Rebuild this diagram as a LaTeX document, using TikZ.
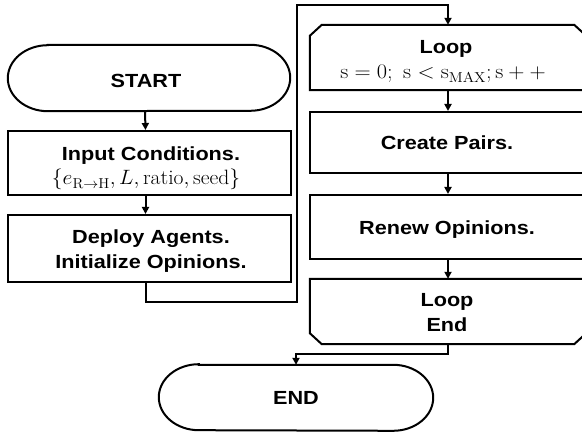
\documentclass[tikz,border=0pt]{standalone}
\usepackage{graphicx}
\usepackage{fontspec}
\setsansfont{Liberation Sans}[FakeStretch=1.14]
\usetikzlibrary{arrows.meta}

% maths line, set in roman at 20.74pt and widened a little
\newcommand\mathline[2]{\mdseries\rmfamily\fontsize{20.74}{26}\selectfont\scalebox{#1}[1]{$#2$}}

\begin{document}
\begin{tikzpicture}[x=1pt,y=1pt,
  every node/.style={inner sep=0pt},
  txt/.style={anchor=base, font=\sffamily\bfseries\fontsize{19}{24}\selectfont},
  box/.style={draw, line width=2pt, minimum width=283pt, minimum height=64pt},
  rbox/.style={draw, line width=2pt, minimum width=276pt, minimum height=63pt},
  shell/.style={minimum width=276pt, minimum height=65pt},
  flow/.style={line width=2pt, line join=miter},
  arr/.style={flow, -{Triangle[length=7pt,width=7pt]}}
]
\useasboundingbox (0,0) rectangle (582,434);
\clip (0,0) rectangle (582,434);

% ---- shapes ----
\node[shell, minimum width=282pt, minimum height=66pt] (start) at (149,356) {};
\node[box] (input) at (149.5,271) {};
\node[box, minimum height=67pt] (deploy) at (149.5,185.5) {};
\node[shell] (loop) at (448,376.5) {};
\node[rbox, minimum height=61pt] (create) at (448,291.5) {};
\node[rbox, minimum height=64pt] (renew) at (448,207) {};
\node[shell] (loopend) at (448,122.5) {};
\node[shell, minimum width=274pt] (finish) at (296,36.5) {};

% terminal outlines
\foreach \t in {start,finish}{
  \draw[flow] ([xshift=40pt]\t.north west) -- ([xshift=-40pt]\t.north east)
    arc[start angle=90, end angle=-90, x radius=40pt, y radius=33pt]
    -- ([xshift=40pt]\t.south west)
    arc[start angle=270, end angle=90, x radius=40pt, y radius=33pt] -- cycle;
}

% loop limit outlines
\draw[flow] (loop.south west) -- ([yshift=-11pt]loop.north west)
  -- ([xshift=12pt]loop.north west) -- ([xshift=-12pt]loop.north east)
  -- ([yshift=-11pt]loop.north east) -- (loop.south east) -- cycle;
\draw[flow] (loopend.north west) -- ([yshift=11pt]loopend.south west)
  -- ([xshift=12pt]loopend.south west) -- ([xshift=-12pt]loopend.south east)
  -- ([yshift=11pt]loopend.south east) -- (loopend.north east) -- cycle;

% ---- texts ----
\node[txt] (tStart) at (146,346.7) {START};
\node[txt] (tInput) at (151,273) {Input Conditions.};
\node[txt] (tInputM) at (146,249)
  {\mathline{1.04}{\{e_{\mathrm{R\to H}}, L, \mathrm{ratio}, \mathrm{seed}\}}};
\node[txt] (tDeployA) at (151,190.7) {Deploy Agents.};
\node[txt] (tDeployB) at (151,165.7) {Initialize Opinions.};
\node[txt] (tLoop) at (446,380.7) {Loop};
\node[txt] (tLoopM) at (443,355)
  {\mathline{1.08}{\mathrm{s}=0;\ \mathrm{s}<\mathrm{s}_{\mathrm{MAX}};\mathrm{s}+{+}}};
\node[txt] (tCreate) at (447,284.4) {Create Pairs.};
\node[txt] (tRenew) at (447,199.4) {Renew Opinions.};
\node[txt] (tEndA) at (447,127.4) {Loop};
\node[txt] (tEndB) at (447,102.4) {End};
\node[txt] (tFinish) at (296,29.4) {END};

% ---- connectors ----
\draw[arr] ([xshift=-4pt]start.south) -- ([xshift=-4pt]input.north);
\draw[arr] ([xshift=-4pt]input.south) -- ([xshift=-4pt]deploy.north);
\coordinate (jA) at (297,132);
\coordinate (jB) at (297,429);
\draw[arr] ([xshift=-4pt]deploy.south) |- (jA) -- (jB) -| (loop.north);
\draw[arr] (loop.south) -- (create.north);
\draw[arr] (create.south) -- (renew.north);
\draw[arr] (renew.south) -- (loopend.north);
\coordinate (jC) at (296,80);
\draw[arr] (loopend.south) |- (jC) -- (finish.north);
\end{tikzpicture}
\end{document}
